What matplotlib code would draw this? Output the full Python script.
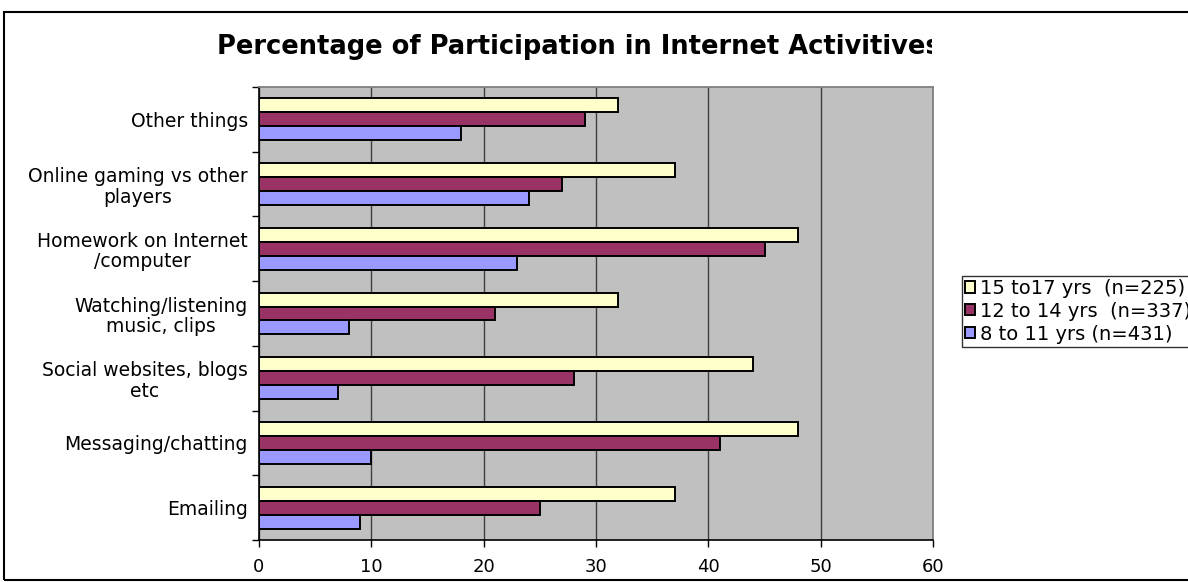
import numpy as np
from matplotlib import pyplot as plt
from matplotlib.patches import Rectangle
from matplotlib.transforms import Bbox

# categories, bottom to top as drawn
categories = ['Emailing', 'Messaging/chatting', 'Social websites, blogs\netc',
              'Watching/listening\nmusic, clips', 'Homework on Internet\n/computer',
              'Online gaming vs other\nplayers', 'Other things']
age_15_17 = [37, 48, 44, 32, 48, 37, 32]
age_12_14 = [25, 41, 28, 21, 45, 27, 29]
age_8_11 = [9, 10, 7, 8, 23, 24, 18]
series_labels = ['15 to17 yrs  (n=225)', '12 to 14 yrs  (n=337)', '8 to 11 yrs (n=431)']
series_colors = ['#FFFFCC', '#993366', '#9999FF']
x_ticks = [0, 10, 20, 30, 40, 50, 60]

W, H = 1188, 582
fig = plt.figure(figsize=(W / 100, H / 100), dpi=100)
fig.patch.set_facecolor('white')

# outer chart frame (right edge runs off the image)
fig.patches.append(Rectangle((4 / W, 1 - 580 / H), 1.2, (580 - 12) / H,
                             transform=fig.transFigure, fill=False,
                             edgecolor='black', linewidth=1.5))

ax = fig.add_axes([259 / W, 1 - 540 / H, (933 - 259) / W, (540 - 87) / H])
ax.set_facecolor('#C0C0C0')

y = np.arange(len(categories))
bh = 0.215
for off, vals, col, lab in zip([bh, 0, -bh], [age_15_17, age_12_14, age_8_11],
                               series_colors, series_labels):
    ax.barh(y + off, vals, height=bh, color=col, edgecolor='black',
            linewidth=1.4, label=lab, zorder=3)

ax.set_xlim(0, 60)
ax.set_ylim(-0.5, len(categories) - 0.5)
ax.set_xticks(x_ticks)
ax.set_xticklabels([str(t) for t in x_ticks], fontsize=13)
ax.set_yticks(y)
ax.set_yticklabels(categories, fontsize=13.5, linespacing=1.1)
for lbl in ax.get_yticklabels():
    lbl.set_multialignment('center')
ax.set_yticks(np.arange(len(categories) + 1) - 0.5, minor=True)
ax.tick_params(axis='y', which='major', length=0, pad=8)
ax.tick_params(axis='y', which='minor', length=5, width=1, color='black')
ax.tick_params(axis='x', length=5, width=1, pad=8)

ax.grid(axis='x', color='#404040', linewidth=1, zorder=1)
ax.set_axisbelow(True)
for side in ['top', 'right']:
    ax.spines[side].set_color('#808080')
    ax.spines[side].set_linewidth(1.3)
for side in ['left', 'bottom']:
    ax.spines[side].set_color('black')
    ax.spines[side].set_linewidth(1.2)

title = fig.text(217 / W, 1 - 47 / H,
                 'Percentage of Participation in Internet Activitives',
                 ha='left', va='center', fontsize=18.5, fontweight='bold')
title.set_clip_box(Bbox.from_extents(0, 0, 932, H))
title.set_clip_on(True)

leg = fig.legend(loc='upper left', bbox_to_anchor=(962 / W, 1 - 276 / H),
                 fontsize=14, frameon=True, fancybox=False, handlelength=0.5,
                 handleheight=0.5, handletextpad=0.3, borderpad=0.15,
                 labelspacing=0.2, borderaxespad=0)
leg.get_frame().set_edgecolor('black')
leg.get_frame().set_linewidth(1)

fig.savefig('out.png', dpi=100)
